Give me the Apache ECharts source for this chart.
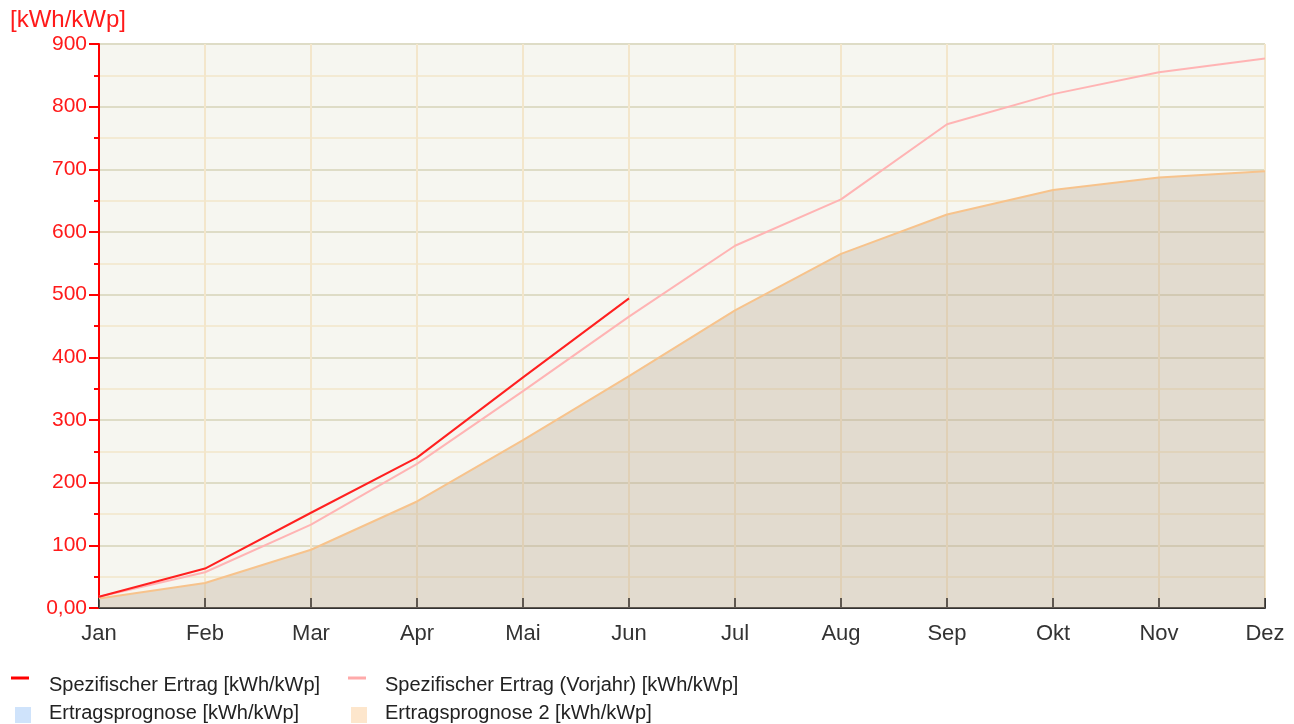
<!DOCTYPE html>
<html>
<head>
<meta charset="utf-8">
<script src="https://cdn.jsdelivr.net/npm/echarts@6/dist/echarts.min.js"></script>
<style>
  html, body { margin: 0; padding: 0; background: #fff; }
  #chart { width: 1294px; height: 724px; }
</style>
</head>
<body>
<div id="chart"></div>
<script>
// Monate
var months = ['Jan', 'Feb', 'Mar', 'Apr', 'Mai', 'Jun', 'Jul', 'Aug', 'Sep', 'Okt', 'Nov', 'Dez'];
// kumulierte Werte [kWh/kWp]
var ertrag = [18, 63, 152, 240, 368, 494];
var ertragVorjahr = [18, 57, 133, 230, 346, 465, 578, 652, 772, 820, 855, 877];
var prognose = [15, 40, 93, 170, 268, 370, 475, 565, 628, 667, 687, 697];
var prognose2 = [15, 40, 93, 170, 268, 370, 475, 565, 628, 667, 687, 697];

var names = [
    'Spezifischer Ertrag [kWh/kWp]',
    'Spezifischer Ertrag (Vorjahr) [kWh/kWp]',
    'Ertragsprognose [kWh/kWp]',
    'Ertragsprognose 2 [kWh/kWp]'
];

var FONT = 'Liberation Sans, Arial, sans-serif';
// Linien-Symbol oben im Kasten (wie im Original etwas hoeher als der Text)
var LINE_ICON = 'path://M0,0H18V3H0Z M0,17H0.01V17.01H0Z';
// Quadrat unten im Kasten (etwas tiefer als der Text)
var BOX_ICON = 'path://M0,0H0.01V0.01H0Z M0,4H16V20H0Z';

// eine Legende pro Eintrag, damit die Spalten wie im Original stehen
function legendItem(name, color, icon, left, top, w, h, gap) {
    return {
        data: [{ name: name, icon: icon, itemStyle: { color: color } }],
        left: left, top: top,
        itemWidth: w, itemHeight: h,
        itemGap: 0,
        selectedMode: false,
        padding: 0,
        textStyle: { color: '#222', fontSize: 20, fontFamily: FONT, padding: [0, 0, 0, gap] }
    };
}

var option = {
    animation: false,
    grid: {
        left: 99, right: 29, top: 44, bottom: 116,
        show: true,
        backgroundColor: '#f6f6f0',
        borderWidth: 0
    },
    graphic: [{
        type: 'text', left: 10, top: 8,
        style: { text: '[kWh/kWp]', fill: '#ff1a1a', fontSize: 24, fontFamily: FONT }
    }],
    legend: [
        legendItem(names[0], '#ff0000', LINE_ICON, 11, 675, 18, 17, 15),
        legendItem(names[1], '#ffaaaa', LINE_ICON, 348, 675, 18, 17, 14),
        legendItem(names[2], '#cfe3fb', BOX_ICON, 15, 703, 16, 20, 13),
        legendItem(names[3], '#fde6cc', BOX_ICON, 351, 703, 16, 20, 13)
    ],
    xAxis: {
        type: 'category',
        data: months,
        boundaryGap: false,
        axisLine: { lineStyle: { color: '#333', width: 2 } },
        axisTick: { inside: true, length: 10, lineStyle: { color: '#333', width: 2 } },
        axisLabel: { color: '#333', fontSize: 22, margin: 15, fontFamily: FONT },
        splitLine: { show: true, lineStyle: { color: '#f3e6cb', width: 2 } }
    },
    yAxis: {
        type: 'value',
        min: 0, max: 900, interval: 100,
        axisLine: { show: true, lineStyle: { color: '#ff0000', width: 2 } },
        axisTick: { show: true, length: 10, lineStyle: { color: '#ff0000', width: 2 } },
        minorTick: { show: true, splitNumber: 2, length: 5, lineStyle: { color: '#ff0000', width: 2 } },
        axisLabel: {
            color: '#ff1a1a', fontSize: 21, margin: 12, fontFamily: FONT,
            formatter: function (v) { return v === 0 ? '0,00' : String(v); }
        },
        splitLine: { lineStyle: { color: '#dedcc6', width: 2 } },
        minorSplitLine: { show: true, lineStyle: { color: '#f3ead3', width: 2 } }
    },
    series: [
        {
            name: names[2], type: 'line', data: prognose,
            symbol: 'none', z: 1,
            itemStyle: { color: '#cfe3fb' },
            lineStyle: { width: 0 },
            areaStyle: { color: 'rgba(185,165,140,0.33)', opacity: 1 }
        },
        {
            name: names[3], type: 'line', data: prognose2,
            symbol: 'none', z: 2,
            itemStyle: { color: '#fde6cc' },
            lineStyle: { color: '#f7c38c', width: 2 }
        },
        {
            name: names[1], type: 'line', data: ertragVorjahr,
            symbol: 'none', z: 3,
            itemStyle: { color: '#ffaaaa' },
            lineStyle: { color: '#ffb4b4', width: 2 }
        },
        {
            name: names[0], type: 'line', data: ertrag,
            symbol: 'none', z: 4,
            itemStyle: { color: '#ff0000' },
            lineStyle: { color: '#ff2020', width: 2 }
        }
    ]
};

var myChart = echarts.init(document.getElementById('chart'));
myChart.setOption(option);
</script>
</body>
</html>
